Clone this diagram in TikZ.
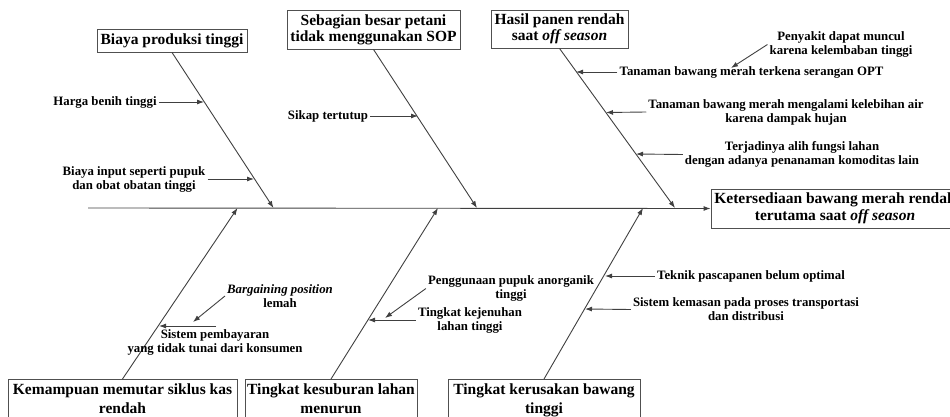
\documentclass[tikz,border=0pt]{standalone}
\usepackage{fontspec}
\setmainfont{Liberation Serif}
\usetikzlibrary{arrows.meta}
\definecolor{linegray}{HTML}{404040}
\definecolor{boxgray}{HTML}{505050}
\begin{document}
\begin{tikzpicture}[x=1pt,y=-1pt,
  line/.style={draw=linegray, line width=0.9pt},
  arr/.style={line, -{Latex[length=7pt,width=5pt]}},
  cause/.style={draw=boxgray, line width=0.9pt, fill=white,
    font=\bfseries\fontsize{15.5}{16}\selectfont, align=center, inner sep=0pt},
  lbl/.style={font=\bfseries\fontsize{12.8}{14}\selectfont, align=center, inner sep=2pt}]
\useasboundingbox (0,0) rectangle (950,417);
\clip (0,0) rectangle (950,417);

% effect box and spine
\node[cause, minimum width=248pt, minimum height=39pt, font=\bfseries\fontsize{15.5}{17}\selectfont]
  (eff) at (835,208.5) {Ketersediaan bawang merah rendah\\terutama saat \textit{off season}};
\coordinate (spine0) at (88,208);
\draw[arr] (spine0) -- (eff.west);

% points where the bones meet the spine
\coordinate (t1) at (273.5,208);
\coordinate (t2) at (477,208);
\coordinate (t3) at (675,208);
\coordinate (t4) at (237.5,208);
\coordinate (t5) at (438,208);
\coordinate (t6) at (643,208);

% upper causes
\node[cause, minimum width=150pt, minimum height=23pt] (c1) at (172,40.5) {Biaya produksi tinggi};
\node[cause, minimum width=173pt, minimum height=39pt] (c2) at (373.5,29.5) {Sebagian besar petani\\tidak menggunakan SOP};
\node[cause, minimum width=137pt, minimum height=38pt] (c3) at (559.5,29) {Hasil panen rendah\\saat \textit{off season}};
\draw[arr] (c1.south) -- (t1);
\draw[arr] (c2.south) -- (t2);
\draw[arr] (c3.south) -- (t3);

% lower causes
\node[cause, minimum width=229pt, anchor=north, inner ysep=4pt, font=\bfseries\fontsize{15.5}{19}\selectfont]
  (c4) at (122.5,379) {Kemampuan memutar siklus kas\\rendah};
\node[cause, minimum width=172pt, anchor=north, inner ysep=4pt, font=\bfseries\fontsize{15.5}{19}\selectfont]
  (c5) at (331,379) {Tingkat kesuburan lahan\\menurun};
\node[cause, minimum width=192pt, anchor=north, inner ysep=4pt, font=\bfseries\fontsize{15.5}{19}\selectfont]
  (c6) at (544,379) {Tingkat kerusakan bawang\\tinggi};
\draw[arr] (c4.north) -- (t4);
\draw[arr] (c5.north) -- (t5);
\draw[arr] (c6.north) -- (t6);

% sub-causes: Biaya produksi tinggi
\node[lbl] (hb) at (105,102) {Harga benih tinggi};
\coordinate (hbE) at (204,102);
\draw[arr] (hb.east) -- (hbE);
\node[lbl] (bi) at (134,179) {Biaya input seperti pupuk\\dan obat obatan tinggi};
\coordinate (biE) at (254,179);
\draw[arr] (bi.east) -- (biE);

% sub-causes: SOP
\node[lbl] (st) at (328,116) {Sikap tertutup};
\coordinate (stE) at (418,116);
\draw[arr] (st.east) -- (stE);

% sub-causes: hasil panen
\node[lbl] (opt) at (751.5,72) {Tanaman bawang merah terkena serangan OPT};
\coordinate (optE) at (576,72);
\draw[arr] (opt.west) -- (optE);
\node[lbl] (pn) at (841,44.5) {Penyakit dapat muncul\\karena kelembaban tinggi};
\coordinate (pnE) at (731,68);
\draw[arr] (pn.west) -- (pnE);
\node[lbl] (air) at (786,112) {Tanaman bawang merah mengalami kelebihan air\\karena dampak hujan};
\coordinate (airE) at (606,112.5);
\draw[arr] (air.west) -- (airE);
\node[lbl] (alih) at (802,154.5) {Terjadinya alih fungsi lahan\\dengan adanya penanaman komoditas lain};
\coordinate (alihE) at (636,154);
\draw[arr] (alih.west) -- (alihE);

% sub-causes: siklus kas
\node[lbl] (sp) at (215,342.5) {Sistem pembayaran\\yang tidak tunai dari konsumen};
\coordinate (spS) at (216,326);
\coordinate (spE) at (159,326);
\draw[arr] (spS) -- (spE);
\node[lbl] (bp) at (280,296) {\textit{Bargaining position}\\lemah};
\coordinate (bpE) at (193,322);
\draw[arr] (bp.west) -- (bpE);

% sub-causes: kesuburan lahan
\node[lbl] (pg) at (511,288.5) {Penggunaan pupuk anorganik\\tinggi};
\coordinate (pgE) at (385,318);
\draw[arr] (pg.west) -- (pgE);
\node[lbl] (kj) at (470,320) {Tingkat kejenuhan\\lahan tinggi};
\coordinate (kjE) at (368,320);
\draw[arr] (kj.west) -- (kjE);

% sub-causes: kerusakan bawang
\node[lbl] (tp) at (751,276) {Teknik pascapanen belum optimal};
\coordinate (tpE) at (605,276);
\draw[arr] (tp.west) -- (tpE);
\node[lbl] (km) at (746,309.5) {Sistem kemasan pada proses transportasi\\dan distribusi};
\coordinate (kmE) at (585,309);
\draw[arr] (km.west) -- (kmE);
\end{tikzpicture}
\end{document}
